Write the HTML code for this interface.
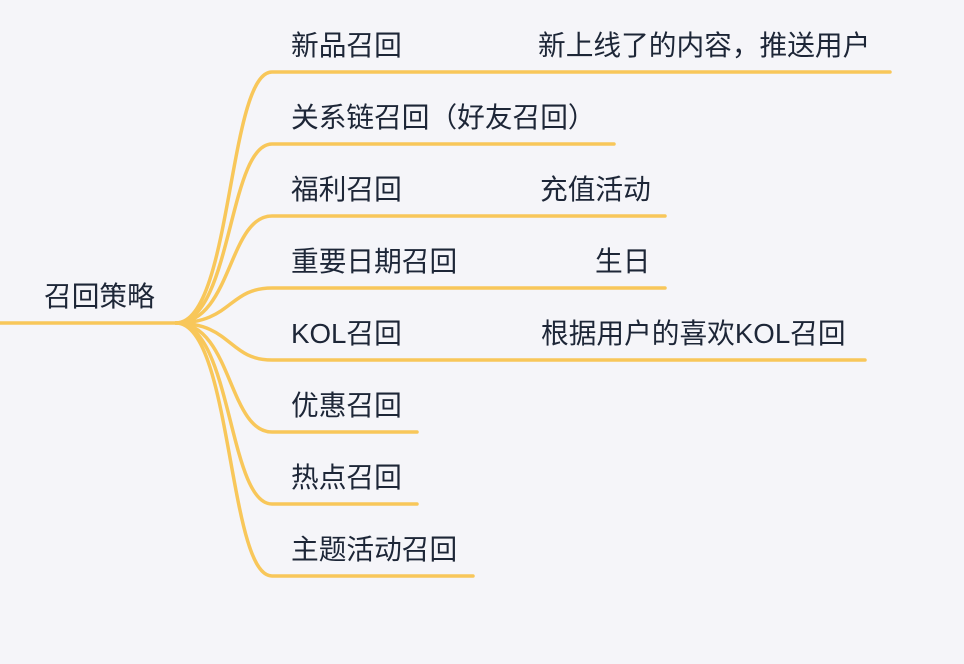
<!DOCTYPE html>
<html><head><meta charset="utf-8"><style>
html,body{margin:0;padding:0;background:#f5f5f9;}
svg{display:block}
text{font-family:"Liberation Sans","Noto Sans CJK SC",sans-serif;font-size:27.7px;fill:#1d2637;}
</style></head><body>
<svg width="964" height="664" viewBox="0 0 964 664">
<g fill="none" stroke="#f8c75a" stroke-width="3.5" stroke-linecap="round">
<path d="M0,323 L178,323"/>
<path d="M176,323 C232,323 228,72 272,72 L890,72"/>
<path d="M176,323 C232,323 228,144 272,144 L614,144"/>
<path d="M176,323 C232,323 228,216 272,216 L665,216"/>
<path d="M176,323 C232,323 228,288 272,288 L665,288"/>
<path d="M176,323 C232,323 228,360 272,360 L865,360"/>
<path d="M176,323 C232,323 228,432 272,432 L417,432"/>
<path d="M176,323 C232,323 228,504 272,504 L417,504"/>
<path d="M176,323 C232,323 228,576 272,576 L473,576"/>
</g>
<text x="44" y="306">召回策略</text>
<text x="291" y="55">新品召回</text>
<text x="538" y="55">新上线了的内容，推送用户</text>
<text x="291" y="127">关系链召回（好友召回）</text>
<text x="291" y="199">福利召回</text>
<text x="540" y="199">充值活动</text>
<text x="291" y="271">重要日期召回</text>
<text x="595" y="271">生日</text>
<text x="291" y="343">KOL召回</text>
<text x="541" y="343">根据用户的喜欢KOL召回</text>
<text x="291" y="415">优惠召回</text>
<text x="291" y="487">热点召回</text>
<text x="291" y="559">主题活动召回</text>
</svg>
</body></html>
